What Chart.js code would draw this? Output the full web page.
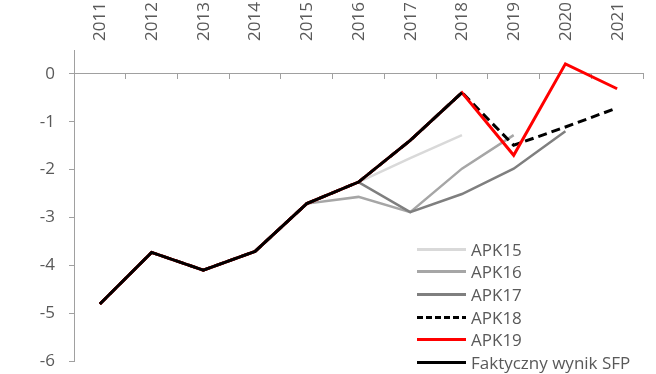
<!DOCTYPE html>
<html>
<head>
<meta charset="utf-8">
<script src="https://cdn.jsdelivr.net/npm/chart.js@4/dist/chart.umd.min.js"></script>
<style>
  html, body { margin: 0; padding: 0; background: #fff; }
  #wrap { position: relative; width: 656px; height: 374px; }
  #legend { position: absolute; left: 417px; top: 238px; font-family: "Open Sans", sans-serif; font-size: 17px; color: #595959; }
  .item { display: flex; align-items: center; height: 22.6px; white-space: nowrap; }
  .sw { width: 49px; height: 3px; margin-right: 5px; }
</style>
</head>
<body>
<div id="wrap">
  <canvas id="c" width="656" height="374"></canvas>
  <div id="legend"></div>
</div>
<script>
const years = ['2011','2012','2013','2014','2015','2016','2017','2018','2019','2020','2021'];
const yTicks = [0, -1, -2, -3, -4, -5, -6];
const apk15  = [-4.81, -3.73, -4.10, -3.71, -2.71, -2.26, -1.76, -1.28, null, null, null];
const apk16  = [-4.81, -3.73, -4.10, -3.71, -2.71, -2.57, -2.89, -1.98, -1.28, null, null];
const apk17  = [-4.81, -3.73, -4.10, -3.71, -2.71, -2.26, -2.89, -2.51, -1.98, -1.20, null];
const apk18  = [-4.81, -3.73, -4.10, -3.71, -2.71, -2.26, -1.39, -0.39, -1.49, -1.11, -0.71];
const apk19  = [-4.81, -3.73, -4.10, -3.71, -2.71, -2.26, -1.39, -0.39, -1.70, 0.21, -0.31];
const actual = [-4.81, -3.73, -4.10, -3.71, -2.71, -2.26, -1.39, -0.39, null, null, null];

const FONT = { family: '"Open Sans", sans-serif', size: 17 };
const TXT = '#595959';
const AX = '#a0a0a0';

const datasets = [
  { label: 'APK15', data: apk15, borderColor: '#d9d9d9', borderWidth: 2.5, order: 5 },
  { label: 'APK16', data: apk16, borderColor: '#a6a6a6', borderWidth: 2.5, order: 4 },
  { label: 'APK17', data: apk17, borderColor: '#7f7f7f', borderWidth: 2.5, order: 3 },
  { label: 'APK18', data: apk18, borderColor: '#000000', borderWidth: 3, borderDash: [9, 5], order: 2 },
  { label: 'APK19', data: apk19, borderColor: '#ff0000', borderWidth: 3, order: 1 },
  { label: 'Faktyczny wynik SFP', data: actual, borderColor: '#000000', borderWidth: 3, order: 0 }
].map(d => Object.assign({ pointRadius: 0, tension: 0, fill: false, spanGaps: false, backgroundColor: d.borderColor }, d));

const chart = new Chart(document.getElementById('c'), {
  type: 'line',
  data: { labels: years, datasets },
  options: {
    responsive: false,
    animation: false,
    devicePixelRatio: 1,
    layout: { padding: { top: 0, left: 0, right: 13, bottom: 13 } },
    plugins: { legend: { display: false }, tooltip: { enabled: false } },
    scales: {
      x: {
        type: 'category',
        position: 'top',
        offset: true,
        grid: { display: false },
        border: { display: false },
        ticks: { minRotation: 90, maxRotation: 90, padding: 1, labelOffset: 21, color: TXT, font: FONT, autoSkip: false },
        afterFit: s => { s.height = 50; }
      },
      x2: {
        type: 'category',
        position: { y: 0 },
        offset: true,
        grid: { offset: true, drawOnChartArea: false, drawTicks: true, tickLength: 5, color: AX, lineWidth: 1 },
        border: { display: true, color: AX, width: 1 },
        ticks: { display: false },
        afterFit: s => { s.height = 0; s.paddingLeft = 0; s.paddingRight = 0; }
      },
      y: {
        min: -6,
        max: 0.5,
        position: 'left',
        grid: { drawOnChartArea: false, drawTicks: true, tickLength: 5, color: AX },
        border: { display: true, color: AX, width: 1 },
        ticks: { color: TXT, font: FONT, padding: 14, includeBounds: false },
        afterBuildTicks: s => { s.ticks = yTicks.map(v => ({ value: v })); },
        afterFit: s => { s.width = 74; s.paddingTop = 0; s.paddingBottom = 0; }
      }
    }
  }
});

const leg = document.getElementById('legend');
datasets.forEach(d => {
  const row = document.createElement('div');
  row.className = 'item';
  const sw = document.createElement('span');
  sw.className = 'sw';
  if (d.borderDash) {
    sw.style.background = `repeating-linear-gradient(90deg, ${d.borderColor} 0 6px, transparent 6px 9px)`;
  } else {
    sw.style.background = d.borderColor;
  }
  const t = document.createElement('span');
  t.textContent = d.label;
  row.appendChild(sw);
  row.appendChild(t);
  leg.appendChild(row);
});
</script>
</body>
</html>
